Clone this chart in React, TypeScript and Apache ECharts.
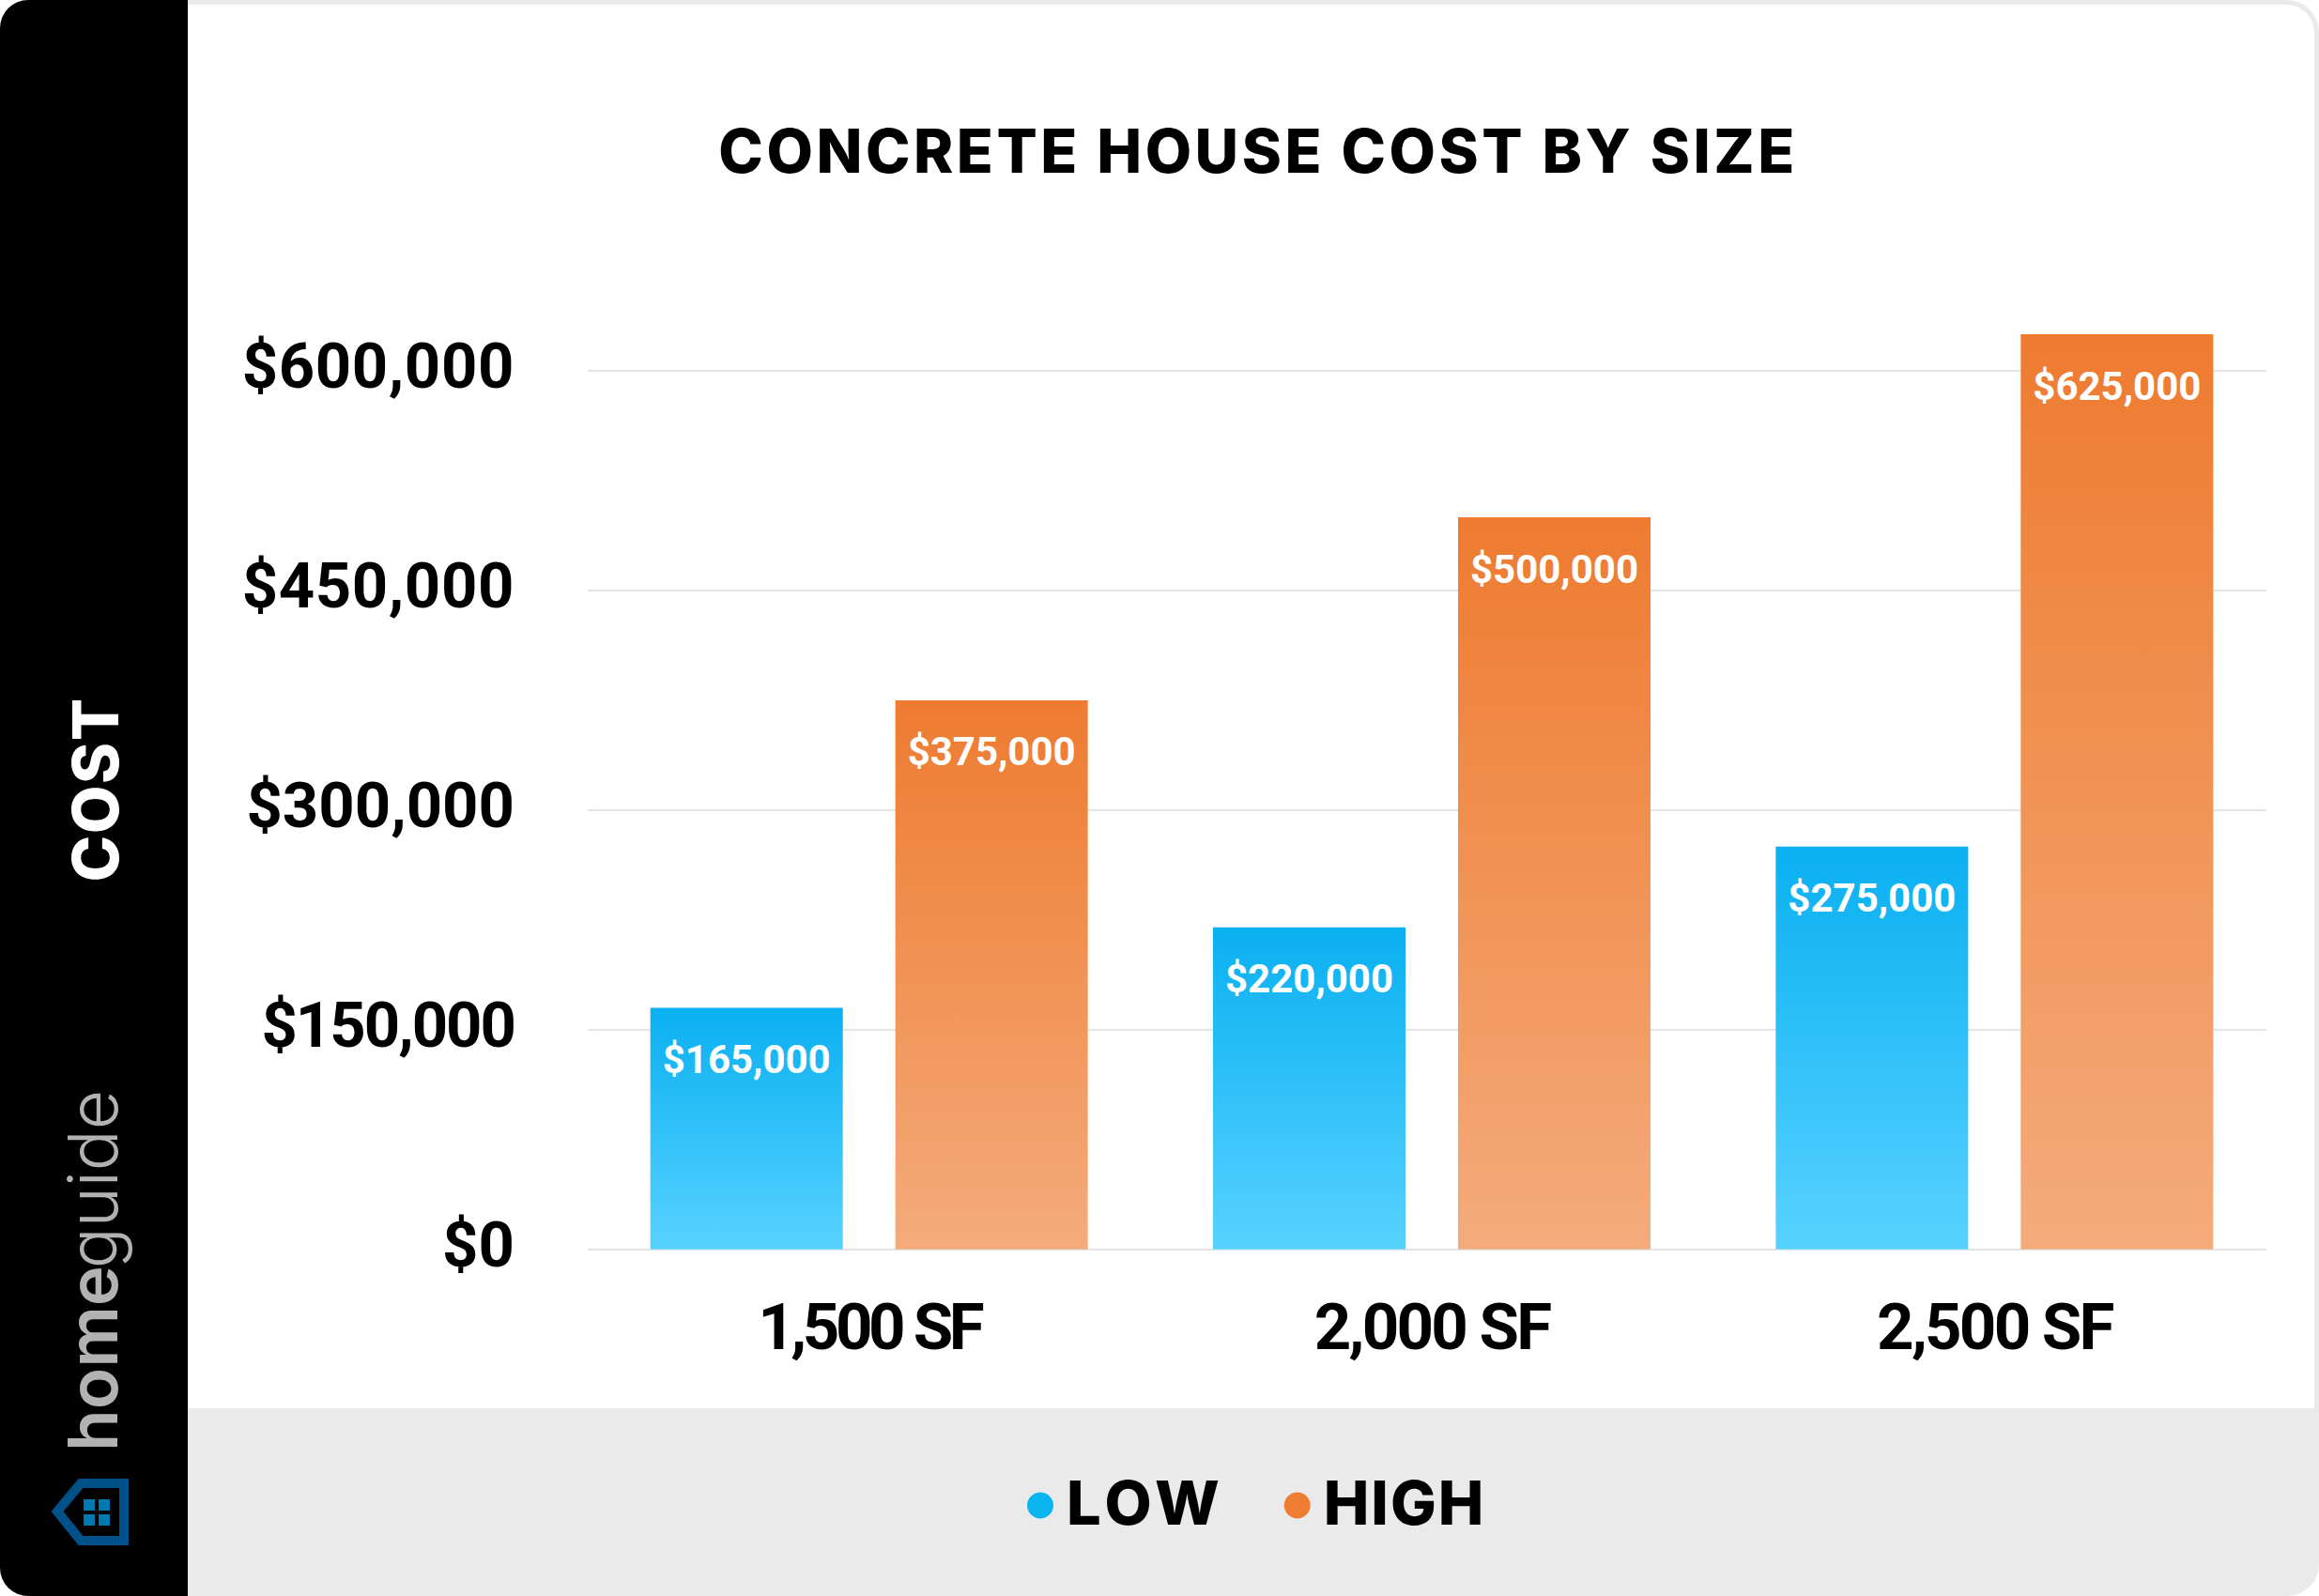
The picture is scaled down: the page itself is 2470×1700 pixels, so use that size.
import React, { useEffect, useRef } from "react";
import * as echarts from "echarts";

const categories = ["1,500 SF", "2,000 SF", "2,500 SF"];
const lowValues = [165000, 220000, 275000];
const highValues = [375000, 500000, 625000];
const tickLabels = ["$0", "$150,000", "$300,000", "$450,000", "$600,000"];
const chartTitle = "CONCRETE HOUSE COST BY SIZE";
const axisMax = 650000;
const axisStep = 150000;

const DIN = "Roboto";
const GEO = "Inter";

const money = (v: number) => "$" + Number(v).toLocaleString("en-US");
const grad = (a: string, b: string) => ({
  type: "linear", x: 0, y: 0, x2: 0, y2: 1,
  colorStops: [{ offset: 0, color: a }, { offset: 1, color: b }],
});

export default function App() {
  const ref = useRef<HTMLDivElement>(null);
  useEffect(() => {
    const chart = echarts.init(ref.current!, undefined, { renderer: "svg" });
    const top = 317.1, height = 1013.6;
    const barLabel = {
      show: true, position: "insideTop", distance: 34, color: "#fff",
      fontFamily: DIN, fontWeight: 700, fontSize: 42,
      formatter: (p: any) => money(p.value),
    };
    chart.setOption({
      animation: false,
      backgroundColor: "#fff",
      title: {
        text: chartTitle, left: 1335, top: 123, textAlign: "center",
        textStyle: { fontFamily: GEO, fontWeight: 800, fontSize: 64, color: "#000" },
      },
      legend: {
        left: 1089, top: 1566, itemWidth: 28, itemHeight: 28, itemGap: 80, icon: "circle",
        textStyle: { fontFamily: GEO, fontWeight: 800, fontSize: 65, color: "#000", padding: [0, 0, 0, 9] },
        data: [
          { name: "LOW", itemStyle: { color: "#0AB4EE" } },
          { name: "HIGH", itemStyle: { color: "#EE7D33" } },
        ],
      },
      grid: [
        { left: 626, top, width: 1788, height },
        { left: 626, top, width: 1798, height },
      ],
      xAxis: [
        { type: "category", gridIndex: 0, data: categories, show: false },
        {
          type: "category", gridIndex: 1, data: categories,
          axisLine: { show: false }, axisTick: { show: false },
          axisLabel: { fontFamily: DIN, fontWeight: 700, fontSize: 69, color: "#000", margin: 48 },
        },
      ],
      yAxis: [
        {
          type: "value", gridIndex: 0, min: 0, max: axisMax, interval: axisStep,
          axisLine: { show: false }, axisTick: { show: false },
          splitLine: { show: true, showMaxLine: false, lineStyle: { color: "#E4E4E4", width: 2 } },
          axisLabel: {
            showMaxLabel: false, fontFamily: DIN, fontWeight: 700, fontSize: 67, color: "#000",
            margin: 78, formatter: (v: number) => money(v),
          },
        },
        { type: "value", gridIndex: 1, min: 0, max: axisMax, interval: axisStep, show: false, splitLine: { show: false } },
      ],
      series: [
        {
          name: "LOW", type: "bar", xAxisIndex: 1, yAxisIndex: 1, data: lowValues,
          barWidth: 205, barGap: "27.3%", label: barLabel,
          itemStyle: { color: grad("#0AB0F1", "#57D2FF") },
        },
        {
          name: "HIGH", type: "bar", xAxisIndex: 1, yAxisIndex: 1, data: highValues,
          barWidth: 205, barGap: "27.3%", label: barLabel,
          itemStyle: { color: grad("#EE7B30", "#F4AB7B") },
        },
      ],
      graphic: [
        { type: "rect", z: -10, shape: { x: 0, y: 0, width: 2470, height: 1700, r: 34 }, style: { fill: "#EAEAEA" } },
        { type: "rect", z: -9, shape: { x: 200, y: 5, width: 2265, height: 1495, r: [0, 30, 0, 0] }, style: { fill: "#fff" } },
        { type: "rect", z: -8, shape: { x: 0, y: 0, width: 200, height: 1700, r: [30, 0, 0, 30] }, style: { fill: "#000" } },
        {
          type: "text", z: 10, x: 101, y: 841, rotation: Math.PI / 2,
          style: { text: "COST", fill: "#fff", font: `800 67px ${GEO}`, textAlign: "center", textVerticalAlign: "middle" },
        },
        {
          type: "text", z: 10, x: 98, y: 1447, rotation: Math.PI / 2,
          style: { text: "home", fill: "#B2B2B2", font: `600 73px ${GEO}`, textAlign: "center", textVerticalAlign: "middle" },
        },
        {
          type: "text", z: 10, x: 98, y: 1256, rotation: Math.PI / 2,
          style: { text: "guide", fill: "#B2B2B2", font: `300 73px ${GEO}`, textAlign: "center", textVerticalAlign: "middle" },
        },
        {
          type: "polygon", z: 10,
          shape: { points: [[61, 1610], [86, 1580], [132, 1580], [132, 1641], [86, 1641]] },
          style: { fill: "none", stroke: "#00518A", lineWidth: 10 },
        },
        { type: "rect", z: 10, shape: { x: 89, y: 1597, width: 12, height: 12 }, style: { fill: "#0078B0" } },
        { type: "rect", z: 10, shape: { x: 105, y: 1597, width: 12, height: 12 }, style: { fill: "#0078B0" } },
        { type: "rect", z: 10, shape: { x: 89, y: 1613, width: 12, height: 12 }, style: { fill: "#0078B0" } },
        { type: "rect", z: 10, shape: { x: 105, y: 1613, width: 12, height: 12 }, style: { fill: "#0078B0" } },
      ],
    });
    // ECharts has no letter-spacing or baseline-shift option: apply them to the SVG text it drew.
    const spacing = (t: string) => {
      if (t === chartTitle) return 3.5;
      if (t === categories[0]) return -4.5;
      if (t.endsWith(" SF")) return -2.8;
      if (t === "LOW") return 5.5;
      if (t === "HIGH") return 2;
      if (t === "COST") return 1.5;
      if (t === "$150,000") return -2;
      if (t === "$450,000" || t === "$600,000") return 0.6;
      return 0;
    };
    const shift = (t: string) => {
      if (t === "LOW" || t === "HIGH") return -3;
      if (tickLabels.includes(t)) return -5;
      return 0;
    };
    ref.current!.querySelectorAll("text").forEach((el) => {
      const t = el.textContent || "";
      if (spacing(t)) el.setAttribute("letter-spacing", String(spacing(t)));
      if (shift(t)) el.setAttribute("dy", String(shift(t)));
    });
    return () => chart.dispose();
  }, []);
  return <div ref={ref} style={{ position: "fixed", left: 0, top: 0, width: 2470, height: 1700 }} />;
}
